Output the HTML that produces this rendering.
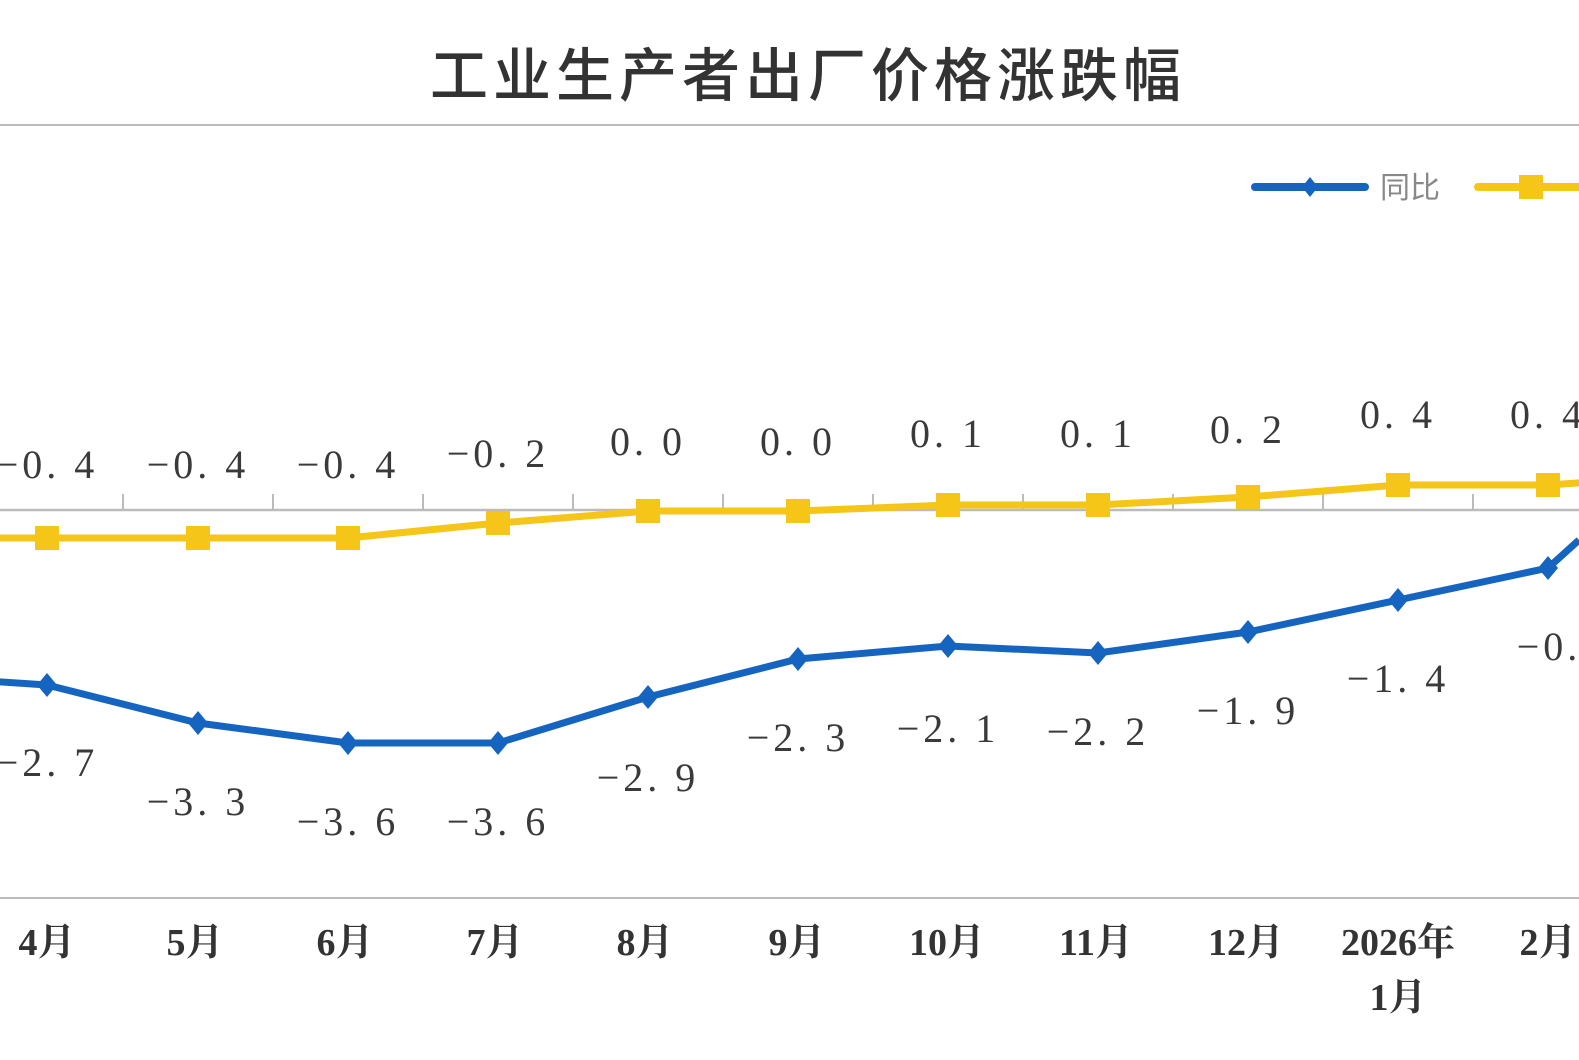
<!DOCTYPE html>
<html><head><meta charset="utf-8"><style>
html,body{margin:0;padding:0;background:#fff;}
svg{display:block;}
.t{font-family:"Liberation Serif","Noto Serif CJK SC",serif;font-size:40px;fill:#3a3a3a;text-anchor:middle;letter-spacing:4px;}
.x{font-family:"Liberation Serif","Noto Serif CJK SC",serif;font-size:38px;font-weight:bold;fill:#333;text-anchor:middle;}
</style></head><body>
<svg width="1579" height="1060" viewBox="0 0 1579 1060">
<text x="808" y="96" text-anchor="middle" style="font-family:'Noto Sans CJK SC','WenQuanYi Zen Hei',sans-serif;font-size:58px;font-weight:500;fill:#333;letter-spacing:5px">工业生产者出厂价格涨跌幅</text>
<line x1="0" y1="125" x2="1579" y2="125" stroke="#bbb" stroke-width="2"/>
<line x1="0" y1="898" x2="1579" y2="898" stroke="#bbb" stroke-width="2"/>
<line x1="0" y1="510" x2="1579" y2="510" stroke="#bbb" stroke-width="2.5"/>
<g stroke="#bbb" stroke-width="2">
<line x1="123" y1="494" x2="123" y2="510"/><line x1="273" y1="494" x2="273" y2="510"/><line x1="423" y1="494" x2="423" y2="510"/><line x1="573" y1="494" x2="573" y2="510"/><line x1="723" y1="494" x2="723" y2="510"/><line x1="873" y1="494" x2="873" y2="510"/><line x1="1023" y1="494" x2="1023" y2="510"/><line x1="1173" y1="494" x2="1173" y2="510"/><line x1="1323" y1="494" x2="1323" y2="510"/><line x1="1473" y1="494" x2="1473" y2="510"/>
</g>
<!-- legend -->
<line x1="1255" y1="187" x2="1365" y2="187" stroke="#1565c0" stroke-width="8" stroke-linecap="round"/>
<path d="M1310 177 L1318 187 L1310 197 L1302 187Z" fill="#1565c0"/>
<text x="1410" y="198" text-anchor="middle" style="font-family:'Noto Sans CJK SC',sans-serif;font-size:30px;fill:#888">同比</text>
<line x1="1478" y1="187" x2="1579" y2="187" stroke="#f5c518" stroke-width="8" stroke-linecap="round"/>
<rect x="1519" y="175" width="24" height="24" fill="#f5c518"/>
<!-- yellow -->
<polyline fill="none" stroke="#f5c518" stroke-width="7" points="-103,538 47,538 198,538 348,538 498,523 648,511 798,511 948,505 1098,505 1248,497 1398,485 1548,485 1620,480"/>
<g fill="#f5c518">
<rect x="35" y="526" width="24" height="24"/><rect x="186" y="526" width="24" height="24"/><rect x="336" y="526" width="24" height="24"/><rect x="486" y="511" width="24" height="24"/><rect x="636" y="499" width="24" height="24"/><rect x="786" y="499" width="24" height="24"/><rect x="936" y="493" width="24" height="24"/><rect x="1086" y="493" width="24" height="24"/><rect x="1236" y="485" width="24" height="24"/><rect x="1386" y="473" width="24" height="24"/><rect x="1536" y="473" width="24" height="24"/>
</g>
<!-- blue -->
<polyline fill="none" stroke="#1565c0" stroke-width="7" points="-103,675 47,685 198,723 348,743 498,743 648,697 798,659 948,646 1098,653 1248,632 1398,600 1548,568 1579,540"/>
<g fill="#1565c0">
<path d="M47 673l10 12-10 12-10-12z"/><path d="M198 711l10 12-10 12-10-12z"/><path d="M348 731l10 12-10 12-10-12z"/><path d="M498 731l10 12-10 12-10-12z"/><path d="M648 685l10 12-10 12-10-12z"/><path d="M798 647l10 12-10 12-10-12z"/><path d="M948 634l10 12-10 12-10-12z"/><path d="M1098 641l10 12-10 12-10-12z"/><path d="M1248 620l10 12-10 12-10-12z"/><path d="M1398 588l10 12-10 12-10-12z"/><path d="M1548 556l10 12-10 12-10-12z"/>
</g>
<!-- yellow labels -->
<g class="t">
<text x="47" y="478">−0. 4</text><text x="198" y="478">−0. 4</text><text x="348" y="478">−0. 4</text><text x="498" y="467">−0. 2</text><text x="648" y="455">0. 0</text><text x="798" y="455">0. 0</text><text x="948" y="447">0. 1</text><text x="1098" y="447">0. 1</text><text x="1248" y="443">0. 2</text><text x="1398" y="428">0. 4</text><text x="1548" y="428">0. 4</text>
</g>
<g class="t">
<text x="47" y="776">−2. 7</text><text x="198" y="815">−3. 3</text><text x="348" y="835">−3. 6</text><text x="498" y="835">−3. 6</text><text x="648" y="791">−2. 9</text><text x="798" y="751">−2. 3</text><text x="948" y="742">−2. 1</text><text x="1098" y="745">−2. 2</text><text x="1248" y="724">−1. 9</text><text x="1398" y="692">−1. 4</text><text x="1568" y="660">−0. 9</text>
</g>
<g class="x">
<text x="47" y="955">4月</text><text x="195" y="955">5月</text><text x="345" y="955">6月</text><text x="495" y="955">7月</text><text x="645" y="955">8月</text><text x="797" y="955">9月</text><text x="947" y="955">10月</text><text x="1096" y="955">11月</text><text x="1246" y="955">12月</text><text x="1398" y="955">2026年</text><text x="1398" y="1010">1月</text><text x="1548" y="955">2月</text>
</g>
</svg>
</body></html>
